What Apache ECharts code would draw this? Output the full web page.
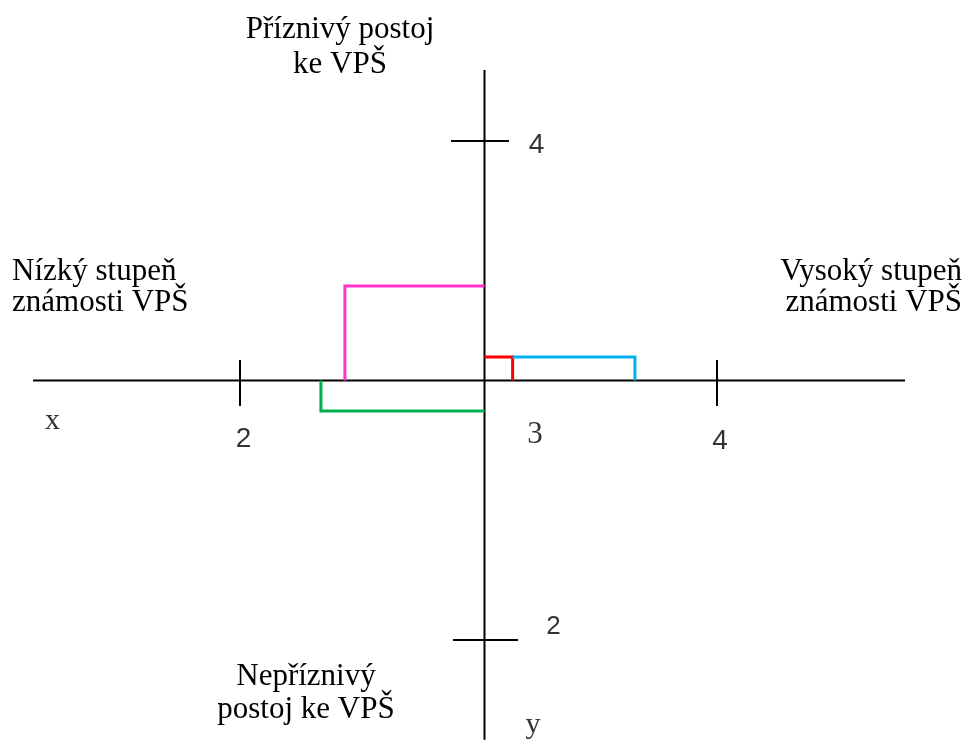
<!DOCTYPE html>
<html>
<head>
<meta charset="utf-8">
<script src="https://cdn.jsdelivr.net/npm/echarts@6/dist/echarts.min.js"></script>
<style>html,body{margin:0;padding:0;background:#fff;}#chart{width:970px;height:740px;}</style>
</head>
<body>
<div id="chart"></div>
<script>
// ---- data ----
const originX = 3;
const originY = 3;
const xTicks = [2, 3, 4];
const xTickLabels = ['2', '3', '4'];
const yTicks = [4, 2];
const yTickLabels = ['4', '2'];
const xAxisName = 'x';
const yAxisName = 'y';
const topCaption = ['Příznivý postoj', 'ke VPŠ'];
const bottomCaption = ['Nepříznivý', 'postoj ke VPŠ'];
const leftCaption = ['Nízký stupeň', 'známosti VPŠ'];
const rightCaption = ['Vysoký stupeň', 'známosti VPŠ'];
// bracket marks: start x, end x, level y
const markStartX = [3, 3, 3, 3.121];
const markEndX = [2.429, 2.331, 3.121, 3.647];
const markY = [3.395, 2.882, 3.098, 3.098];
const markColors = ['#FF33CC', '#00B050', '#FF0000', '#00B0F0'];

// ---- layout ----
const unitLeft = 244.5, unitRight = 232.5, unitUp = 239.5, unitDown = 259.5;
const originPxX = 484.5, originPxY = 380.5;
const gridTop = originPxY - 1.5 * unitUp;
const gridH = 3 * unitUp;
const gridLeft = 0, gridW = 970;
const yUpMin = 1.5, yUpMax = 4.5;
const yDownMax = originY + (originPxY - gridTop) / unitDown;
const yDownMin = originY - (gridTop + gridH - originPxY) / unitDown;
const xLeftMin = originX - (originPxX - gridLeft) / unitLeft;
const xLeftMax = originX + (gridLeft + gridW - originPxX) / unitLeft;
const xRightMin = originX - (originPxX - gridLeft) / unitRight;
const xRightMax = originX + (gridLeft + gridW - originPxX) / unitRight;
const axisXFrom = originX - (originPxX - 33) / unitLeft;
const axisXTo = originX + (905 - originPxX) / unitRight;
const axisYTop = originY + (originPxY - 70) / unitUp;

const series = [];
function seg(pts, color, width, xIdx, yIdx) {
  series.push({type: 'line', data: pts, xAxisIndex: xIdx, yAxisIndex: yIdx, symbol: 'none', silent: true,
    lineStyle: {color: color, width: width, join: 'miter', cap: 'butt'}, z: 2});
}
// axes
seg([[axisXFrom, originY], [originX, originY]], '#000', 2, 0, 0);
seg([[originX, originY], [axisXTo, originY]], '#000', 2, 1, 0);
seg([[originX, originY], [originX, axisYTop]], '#000', 2, 0, 0);
seg([[originX, originY], [originX, yDownMin]], '#000', 2, 0, 1);
// x ticks
xTicks.forEach(function (t) {
  if (t === originX) return;
  const xi = t < originX ? 0 : 1;
  seg([[t, originY], [t, originY + 20.5 / unitUp]], '#000', 2, xi, 0);
  seg([[t, originY], [t, originY - 25.5 / unitDown]], '#000', 2, xi, 1);
});
// y ticks
yTicks.forEach(function (t) {
  const yi = t > originY ? 0 : 1;
  const l = t > originY ? 33.5 : 31.5, r = t > originY ? 24.5 : 33.5;
  seg([[originX - l / unitLeft, t], [originX, t]], '#000', 2, 0, yi);
  seg([[originX, t], [originX + r / unitRight, t]], '#000', 2, 1, yi);
});
// bracket marks
markStartX.forEach(function (sx, i) {
  const yi = markY[i] >= originY ? 0 : 1;
  const xi = markEndX[i] < originX ? 0 : 1;
  seg([[sx, markY[i]], [markEndX[i], markY[i]], [markEndX[i], originY]], markColors[i], 3, xi, yi);
});

// tick labels, grouped by axis pair
const sans = {fontFamily: 'Liberation Sans', fontSize: 28, color: '#000'};
const serifName = {fontFamily: 'Liberation Serif', fontSize: 30, color: '#000'};
const xOffsets = [[3.5, 59], [50.5, 54.5], [3, 60.5]];
const groups = {};
function addLabel(xi, yi, item) {
  const k = xi + '_' + yi;
  (groups[k] = groups[k] || {xi: xi, yi: yi, data: []}).data.push(item);
}
xTicks.forEach(function (t, i) {
  const lab = Object.assign({offset: xOffsets[i], formatter: xTickLabels[i]}, sans);
  if (t === originX) { lab.fontFamily = 'Liberation Serif'; lab.fontSize = 31; }
  addLabel(t <= originX ? 0 : 1, 0, {value: [t, originY], label: lab});
});
yTicks.forEach(function (t, i) {
  if (t > originY) addLabel(0, 0, {value: [originX, t], label: Object.assign({offset: [52, 4.5], formatter: yTickLabels[i]}, sans)});
  else addLabel(0, 1, {value: [originX, t], label: Object.assign({offset: [69, -13], formatter: yTickLabels[i]}, sans, {fontSize: 26})});
});
addLabel(0, 0, {value: [axisXFrom, originY], label: Object.assign({offset: [19.5, 41], formatter: xAxisName}, serifName)});
addLabel(0, 1, {value: [originX, yDownMin], label: Object.assign({offset: [48.5, -15], formatter: yAxisName}, serifName)});
Object.keys(groups).forEach(function (k) {
  const g = groups[k];
  series.push({type: 'scatter', data: g.data, xAxisIndex: g.xi, yAxisIndex: g.yi, symbolSize: 0, silent: true,
    label: {show: true, position: 'inside', align: 'center', verticalAlign: 'middle'}, z: 3});
});

function cap(lines, x, ys, align) {
  return lines.map(function (t, i) {
    return {type: 'text', silent: true, style: {text: t, x: x, y: ys[i], textAlign: align, textVerticalAlign: 'middle',
      font: '31px "Liberation Serif"', fill: '#000'}};
  });
}
const graphics = [].concat(
  cap(topCaption, 340, [30, 65], 'center'),
  cap(leftCaption, 12, [272, 303], 'left'),
  cap(rightCaption, 962, [272, 303], 'right'),
  cap(bottomCaption, 306, [677, 710], 'center')
);

const chart = echarts.init(document.getElementById('chart'), null, {renderer: 'canvas'});
chart.setOption({
  animation: false,
  backgroundColor: '#fff',
  grid: {left: gridLeft, top: gridTop, width: gridW, height: gridH, containLabel: false},
  xAxis: [
    {type: 'value', min: xLeftMin, max: xLeftMax, show: false, position: 'bottom'},
    {type: 'value', min: xRightMin, max: xRightMax, show: false, position: 'top'}
  ],
  yAxis: [
    {type: 'value', min: yUpMin, max: yUpMax, show: false, position: 'left'},
    {type: 'value', min: yDownMin, max: yDownMax, show: false, position: 'right'}
  ],
  series: series,
  graphic: graphics
});
</script>
</body>
</html>
